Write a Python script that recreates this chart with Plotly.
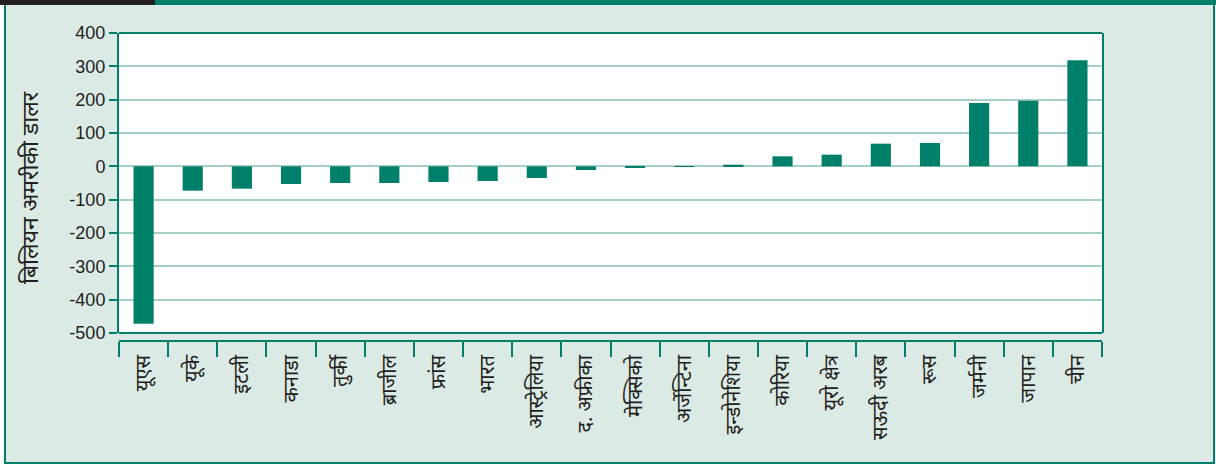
import plotly.graph_objects as go

categories = ["यूएस", "यूके", "इटली", "कनाडा", "तुर्की", "ब्राजील", "फ्रांस", "भारत",
              "आस्ट्रेलिया", "द. अफ्रीका", "मेक्सिको", "अर्जेन्टिना", "इन्डोनेशिया", "कोरिया",
              "यूरो क्षेत्र", "सऊदी अरब", "रूस", "जर्मनी", "जापान", "चीन"]
values = [-472, -73, -67, -53, -50, -50, -47, -44, -35, -11, -5, -2, 5, 30, 35, 68, 70, 190, 197, 318]
y_ticks = [-500, -400, -300, -200, -100, 0, 100, 200, 300, 400]
y_title = "बिलियन अमरीकी डालर"

TEAL = "#007f6a"
GRID = "#a6cfc5"
MINT = "#dceae6"
DARK = "#231f20"
W, H = 1216, 465
L, R, T, B = 119, 1102, 33, 341
PLOT_BOTTOM = 333

def px_x(p):
    return (p - L) / (R - L)

def px_y(p):
    return (B - p) / (B - T)

num_font = dict(family="Liberation Sans Narrow, Arial Narrow, Liberation Sans, sans-serif", size=18, color=DARK)
dev_font = dict(family="Noto Sans Devanagari, Lohit Devanagari, Mangal, FreeSans, sans-serif", size=20, color=DARK)

fig = go.Figure()
fig.add_trace(go.Bar(x=categories, y=values, marker=dict(color=TEAL, line=dict(width=0)), width=0.41))

fig.update_layout(
    width=W, height=H,
    margin=dict(l=L, r=W - R, t=T, b=H - B, pad=0),
    paper_bgcolor="white",
    plot_bgcolor="white",
    showlegend=False,
    xaxis=dict(
        type="category", categoryarray=categories, categoryorder="array",
        anchor="free", position=0,
        showline=True, linecolor=TEAL, linewidth=2,
        ticks="outside", ticklen=15, tickwidth=2, tickcolor=TEAL, tickson="boundaries",
        ticklabelstandoff=5,
        tickangle=-90, tickfont=dev_font, showgrid=False,
        range=[-0.5, len(categories) - 0.5],
    ),
    yaxis=dict(
        domain=[px_y(PLOT_BOTTOM), 1],
        range=[-500, 400], tickvals=y_ticks, ticktext=[str(v) for v in y_ticks],
        showline=True, linecolor=TEAL, linewidth=2, mirror=True,
        ticks="outside", ticklen=8, tickwidth=2, tickcolor=TEAL,
        showgrid=True, gridcolor=GRID, gridwidth=1.5,
        zeroline=False, tickfont=num_font,
    ),
)

shapes = [
    dict(type="rect", xref="paper", yref="paper", x0=px_x(5), x1=px_x(1214), y0=px_y(463), y1=px_y(4),
         fillcolor=MINT, line=dict(color=TEAL, width=2), layer="below"),
    dict(type="rect", xref="x domain", yref="y domain", x0=0, x1=1, y0=0, y1=1,
         fillcolor="white", line=dict(width=0), layer="below"),
    dict(type="rect", xref="paper", yref="paper", x0=px_x(0), x1=px_x(155), y0=px_y(5), y1=px_y(0),
         fillcolor=DARK, line=dict(width=0)),
    dict(type="rect", xref="paper", yref="paper", x0=px_x(155), x1=px_x(1216), y0=px_y(5), y1=px_y(0),
         fillcolor=TEAL, line=dict(width=0)),
    dict(type="line", xref="x domain", yref="y domain", x0=0, x1=1, y0=1, y1=1, line=dict(color=TEAL, width=2)),
    dict(type="line", xref="x domain", yref="y domain", x0=0, x1=1, y0=0, y1=0, line=dict(color=TEAL, width=2)),
]
fig.update_layout(shapes=shapes)

fig.add_annotation(text=y_title, xref="paper", yref="paper", x=px_x(32), y=px_y(188),
                   textangle=-90, showarrow=False, font=dict(dev_font, size=23),
                   xanchor="center", yanchor="middle")

fig.write_html("out.html")
